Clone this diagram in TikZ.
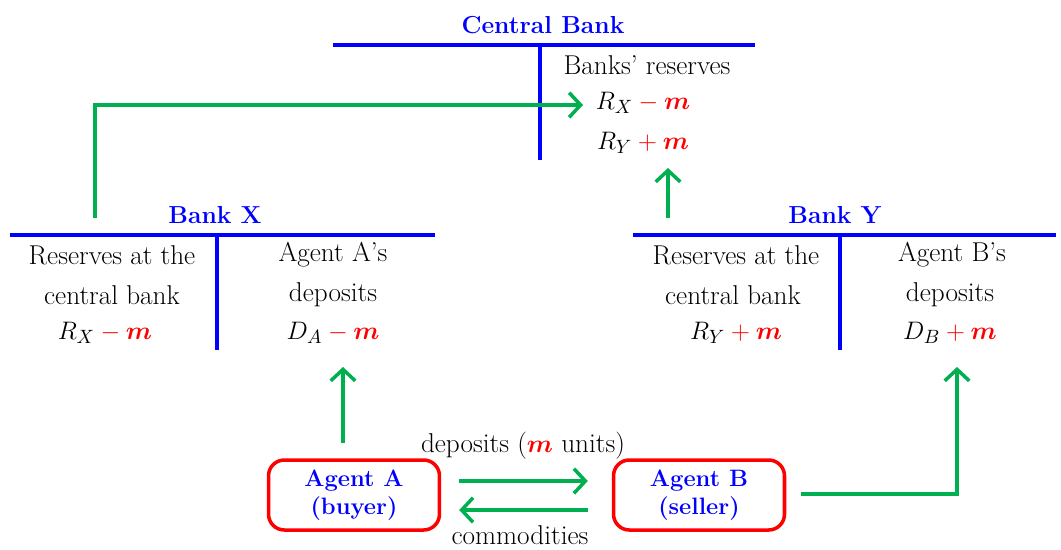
\documentclass[tikz,border=0pt]{standalone}
\usepackage{bm}
\usetikzlibrary{arrows.meta}

\definecolor{flowgreen}{RGB}{0,176,80}
\newcommand{\mminus}{\mathbin{\textcolor{red}{-}}\textcolor{red}{\bm{m}}}
\newcommand{\mplus}{\mathbin{\textcolor{red}{+}}\textcolor{red}{\bm{m}}}

\begin{document}
\begin{tikzpicture}[x=0.02cm, y=-0.02cm,
	title/.style={blue, font=\fontsize{14}{16}\selectfont\bfseries},
	txt/.style={font=\fontsize{15.5}{17}\selectfont, inner sep=1pt},
	acct/.style={blue, line width=2.2pt},
	agent/.style={draw=red, line width=2pt, rounded corners=9pt, align=center,
		minimum width=3.42cm, minimum height=1.4cm, text=blue,
		font=\fontsize{13.5}{16}\selectfont\bfseries},
	flow/.style={->, draw=flowgreen, line width=2pt},
	>={Straight Barb[length=6.5pt, width=14pt, line width=2pt]}]

\useasboundingbox (0,0) rectangle (1061,549);

% central bank
\node[title] (cb) at (543,25) {Central Bank};
\draw[acct] (333,45) -- (755,45);
\draw[acct] (540,45) -- (540,160);
\node[txt] (cbres) at (647,65) {Banks' reserves};
\node[txt] (cbrx) at (643,103) {$R_X\mminus$};
\node[txt] (cbry) at (643,143) {$R_Y\mplus$};

% bank X
\node[title] (bx) at (215,215) {Bank X};
\draw[acct] (10,235) -- (435,235);
\draw[acct] (217,235) -- (217,350);
\node[txt] (bxr1) at (112,255) {Reserves at the};
\node[txt] (bxr2) at (112,295) {central bank};
\node[txt] (bxr) at (105,333) {$R_X\mminus$};
\node[txt] (bxd1) at (333,255) {Agent A's};
\node[txt] (bxd2) at (333,295) {deposits};
\node[txt] (bxd) at (333,333) {$D_A\mminus$};

% bank Y
\node[title] (by) at (835,215) {Bank Y};
\draw[acct] (633,235) -- (1056,235);
\draw[acct] (840,235) -- (840,350);
\node[txt] (byr1) at (736,255) {Reserves at the};
\node[txt] (byr2) at (733,295) {central bank};
\node[txt] (byr) at (736,333) {$R_Y\mplus$};
\node[txt] (byd1) at (952,255) {Agent B's};
\node[txt] (byd2) at (950,295) {deposits};
\node[txt] (byd) at (950,333) {$D_B\mplus$};

% agents
\node[agent] (aa) at (354,495) {Agent A\\(buyer)};
\node[agent] (ab) at (699,495) {Agent B\\(seller)};
\node[txt] (dep) at (523,446) {deposits ($\textcolor{red}{\bm{m}}$ units)};
\node[txt, inner sep=0pt] (com) at (520,535) {commodities};

% flows
\coordinate (bxup) at (95,218);
\coordinate (cbin) at (583,105);
\coordinate (byup) at (668,218);
\coordinate (byin) at (668,168);
\coordinate (aaup) at (343,443);
\coordinate (daend) at (343,367);
\coordinate (dbend) at (957,367);
\draw[flow] (bxup) |- (cbin);
\draw[flow] (byup) -- (byin);
\draw[flow] (aaup) -- (daend);
\draw[flow] (ab.east |- 0,494) ++(15,0) -| (dbend);
\draw[flow] ([xshift=0.36cm,yshift=0.28cm]aa.east) -- ([xshift=-0.48cm,yshift=0.28cm]ab.west);
\draw[flow] ([xshift=-0.48cm,yshift=-0.3cm]ab.west) -- ([xshift=0.36cm,yshift=-0.3cm]aa.east);
\end{tikzpicture}
\end{document}
